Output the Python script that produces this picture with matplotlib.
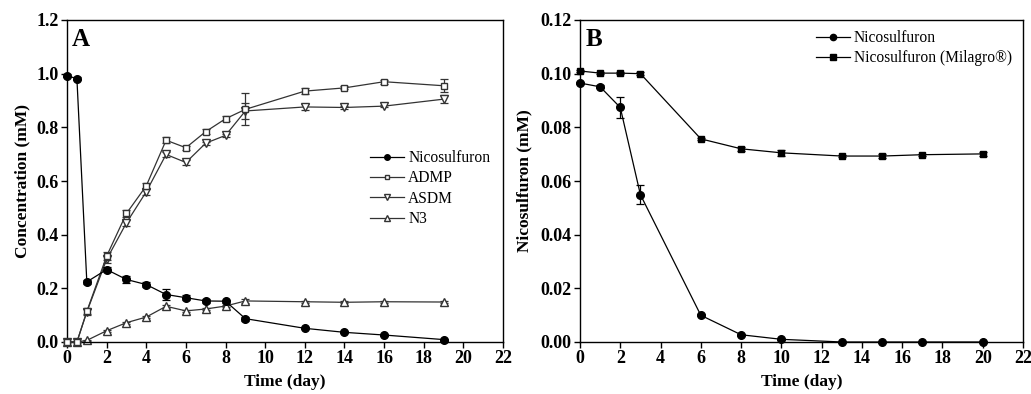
import matplotlib.pyplot as plt
from matplotlib.lines import Line2D
import numpy as np

plt.rcParams['font.family'] = ['Liberation Serif', 'DejaVu Serif']

# panel A data
days_a = [0, 0.5, 1, 2, 3, 4, 5, 6, 7, 8, 9, 12, 14, 16, 19]
nico_a = [0.993, 0.981, 0.224, 0.270, 0.233, 0.214, 0.177, 0.165, 0.153, 0.152, 0.087, 0.051, 0.036, 0.026, 0.009]
nico_a_err = [0.005, 0.005, 0.008, 0.008, 0.012, 0.008, 0.020, 0.010, 0.008, 0.006, 0.008, 0.004, 0.004, 0.004, 0.004]
admp = [0, 0, 0.114, 0.320, 0.479, 0.582, 0.752, 0.724, 0.784, 0.832, 0.867, 0.935, 0.947, 0.970, 0.955]
admp_err = [0, 0, 0.01, 0.015, 0.012, 0.01, 0.012, 0.008, 0.008, 0.01, 0.06, 0.012, 0.006, 0.008, 0.025]
asdm = [0, 0, 0.112, 0.308, 0.444, 0.560, 0.699, 0.669, 0.741, 0.770, 0.861, 0.876, 0.874, 0.879, 0.905]
asdm_err = [0, 0, 0.01, 0.012, 0.01, 0.012, 0.008, 0.008, 0.006, 0.006, 0.03, 0.012, 0.006, 0.004, 0.015]
n3 = [0, 0, 0.006, 0.042, 0.072, 0.093, 0.133, 0.116, 0.123, 0.134, 0.153, 0.150, 0.148, 0.150, 0.149]
n3_err = [0, 0, 0.003, 0.004, 0.004, 0.005, 0.006, 0.004, 0.004, 0.004, 0.006, 0.004, 0.003, 0.003, 0.003]

# panel B data
days_b = [0, 1, 2, 3, 6, 8, 10, 13, 15, 17, 20]
nico_b = [0.0965, 0.0951, 0.0874, 0.0549, 0.00995, 0.0027, 0.0010, 0.0, 0.0, 0.0, 0.0]
nico_b_err = [0.0005, 0.0006, 0.0040, 0.0035, 0.0003, 0.0003, 0.0002, 0.0, 0.0, 0.0, 0.0]
milagro = [0.1010, 0.1002, 0.1002, 0.1000, 0.0757, 0.0720, 0.0705, 0.0693, 0.0693, 0.0698, 0.0701]
milagro_err = [0.0004, 0.0003, 0.0003, 0.0005, 0.0004, 0.0008, 0.0010, 0.0004, 0.0006, 0.0004, 0.0006]

fig = plt.figure(figsize=(10.31, 3.94), dpi=100)
axA = fig.add_axes([67/1031, 1-342/394, (503-67)/1031, (342-20)/394])
axB = fig.add_axes([580/1031, 1-342/394, (1023-580)/1031, (342-20)/394])

ekw = dict(capsize=3, elinewidth=0.9, capthick=0.9, lw=0.9, clip_on=False)

# (series, err, colour, marker, face, size, label)
series_a = [
    (nico_a, nico_a_err, 'black', 'o', 'black', 5.5, 'Nicosulfuron'),
    (admp, admp_err, '#333333', 's', 'white', 5, 'ADMP'),
    (asdm, asdm_err, '#333333', 'v', 'white', 5.5, 'ASDM'),
    (n3, n3_err, '#333333', '^', 'white', 5.5, 'N3'),
]
handles_a = []
for i, (y, e, c, m, f, s, lab) in enumerate(series_a):
    axA.errorbar(days_a, y, yerr=e, color=c, marker=m, mfc=f, mec=c, ms=s, zorder=5 - i, **ekw)
    handles_a.append(Line2D([], [], color=c, lw=0.9, marker=m, mfc=f, mec=c, ms=s - 1.5, label=lab))

series_b = [
    (nico_b, nico_b_err, 'o', 5.5, 'Nicosulfuron'),
    (milagro, milagro_err, 's', 5, 'Nicosulfuron (Milagro®)'),
]
handles_b = []
for y, e, m, s, lab in series_b:
    axB.errorbar(days_b, y, yerr=e, color='black', marker=m, mfc='black', ms=s, **ekw)
    handles_b.append(Line2D([], [], color='black', lw=0.9, marker=m, mfc='black', ms=s - 1, label=lab))

for ax in (axA, axB):
    ax.set_xlim(0, 22)
    ax.set_xticks(np.arange(0, 23, 2))
    ax.tick_params(direction='out', length=4, width=1, labelsize=13, pad=2)
    for lab in ax.get_xticklabels():
        lab.set_fontweight('bold')
    for sp in ax.spines.values():
        sp.set_linewidth(1.0)
    ax.set_xlabel('Time (day)', fontsize=12.5, fontweight='bold', labelpad=5)

axA.set_ylim(0, 1.2)
axA.set_yticks(np.arange(0, 1.21, 0.2))
axA.set_yticklabels(['%.1f' % v for v in np.arange(0, 1.21, 0.2)], fontweight='bold')
axA.set_ylabel('Concentration (mM)', fontsize=12.5, fontweight='bold', labelpad=4)
axA.text(0.012, 0.975, 'A', transform=axA.transAxes, fontsize=18, fontweight='bold', va='top')
axA.legend(handles=handles_a, loc='upper left', bbox_to_anchor=(0.677, 0.62), frameon=False, fontsize=11.2,
           handlelength=2.2, handletextpad=0.25, labelspacing=0.28, borderpad=0)

axB.set_ylim(0, 0.12)
axB.set_yticks(np.arange(0, 0.121, 0.02))
axB.set_yticklabels(['%.2f' % v for v in np.arange(0, 0.121, 0.02)], fontweight='bold')
axB.set_ylabel('Nicosulfuron (mM)', fontsize=12.5, fontweight='bold', labelpad=6)
axB.text(0.012, 0.975, 'B', transform=axB.transAxes, fontsize=18, fontweight='bold', va='top')
axB.legend(handles=handles_b, loc='upper left', bbox_to_anchor=(0.515, 0.993), frameon=False, fontsize=11.2,
           handlelength=2.2, handletextpad=0.25, labelspacing=0.28, borderpad=0)

fig.savefig('out.png', dpi=100)
